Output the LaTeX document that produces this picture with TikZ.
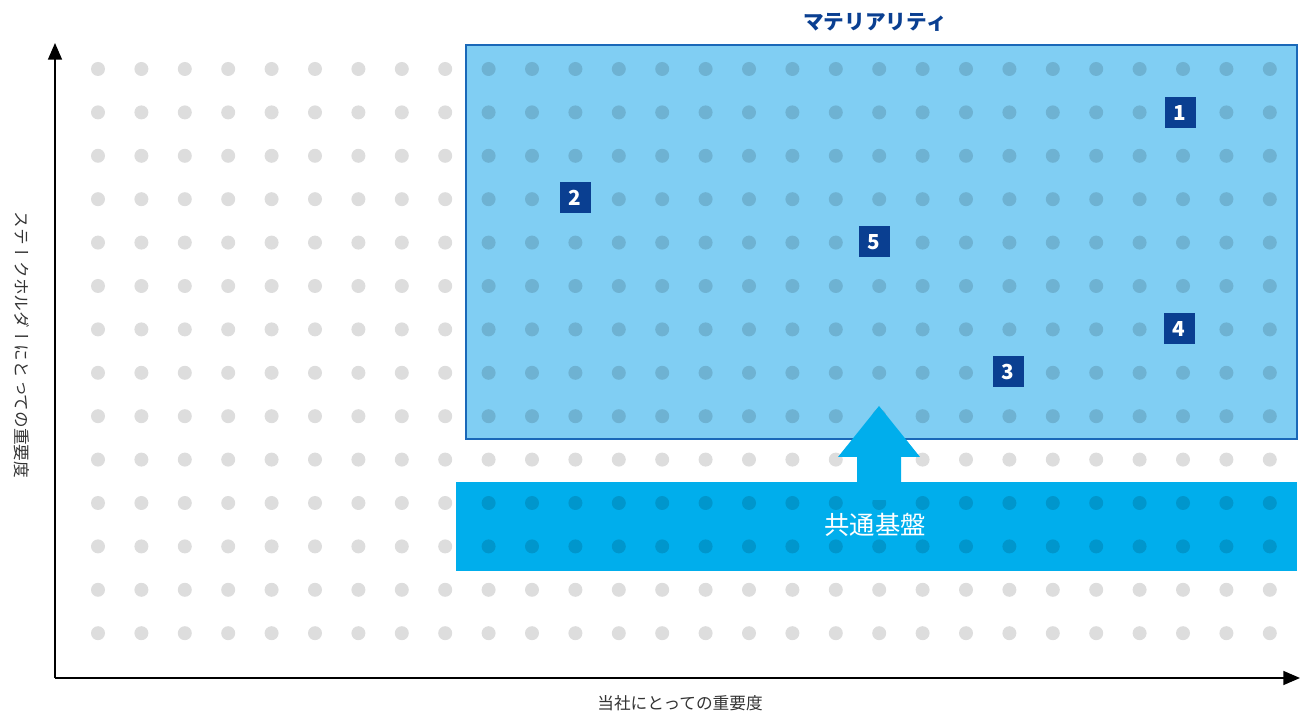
\documentclass[tikz,border=0pt]{standalone}
\usepackage{fontspec}
\setmainfont{Noto Sans CJK JP}
\newfontfamily\jpvert[Vertical=RotatedGlyphs]{Noto Sans CJK JP}
\usepackage{tikz}
\usetikzlibrary{positioning,arrows.meta}
\definecolor{boxBlue}{HTML}{80CEF3}
\definecolor{boxEdge}{HTML}{1A68B8}
\definecolor{barBlue}{HTML}{00AEEC}
\definecolor{navy}{HTML}{0A3F91}
\definecolor{axisText}{HTML}{333333}
\tikzset{
		axisStyle/.style = {line width = 1.1pt, -{Triangle[length=12.5pt, width=10.5pt]}},
		dotStyle/.style = {fill=black, fill opacity=0.135},
		materialBox/.style = {fill=boxBlue, draw=boxEdge, line width=1.5pt},
		baseBar/.style = {fill=barBlue},
		numBox/.style = {fill=navy, text=white, font=\bfseries\fontsize{15.5}{16}\selectfont,
		                 minimum size=23.25pt, inner sep=0pt},
		axisLabel/.style = {text=axisText, font=\fontsize{12.5}{13}\selectfont}
}

\begin{document}
\begin{tikzpicture}[x=0.75pt, y=-0.75pt]
  \useasboundingbox (0,0) rectangle (1300,712);

  % Draw materiality box and common base bar
  \draw [materialBox] (466,45) rectangle (1297,439);
  \fill [baseBar] (456,482) rectangle (1297,571);

  % Draw grid of dots
  \foreach \i in {0,...,27}
    \foreach \j in {0,...,13}
      \fill [dotStyle] ({98+43.4*\i},{69+43.4*\j}) circle [radius=7];

  % Draw arrow from base bar up into the box
  \coordinate (arrowFoot) at (879,500);
  \coordinate (arrowTip) at (879,406);
  \fill [barBlue] (857,500) -- (857,457) -- (838,457) -- (arrowTip)
        -- (920,457) -- (901,457) -- (901,500) -- cycle;

  % Draw numbered items
  \foreach \n/\x/\y in {1/1180/113, 2/575/198, 3/1008/372, 4/1179/329, 5/874/242}
    \node [numBox] (item\n) at (\x,\y) {\n};

  % Labels
  \node [text=navy, font=\bfseries\fontsize{15.5}{16}\selectfont] (title) at (875,22) {マテリアリティ};
  \node [text=white, font=\fontsize{19}{20}\selectfont] (base) at (875,525) {共通基盤};

  % Draw axes
  \coordinate (origin) at (55,678);
  \draw [axisStyle] (origin) -- (55,43);
  \draw [axisStyle] (origin) -- (1300,678);
  \node [axisLabel] (xLabel) at (680,703) {当社にとっての重要度};
  \node [axisLabel, rotate=-90] (yLabel) at (22,345) {\jpvert ステークホルダーにとっての重要度};

\end{tikzpicture}
\end{document}
